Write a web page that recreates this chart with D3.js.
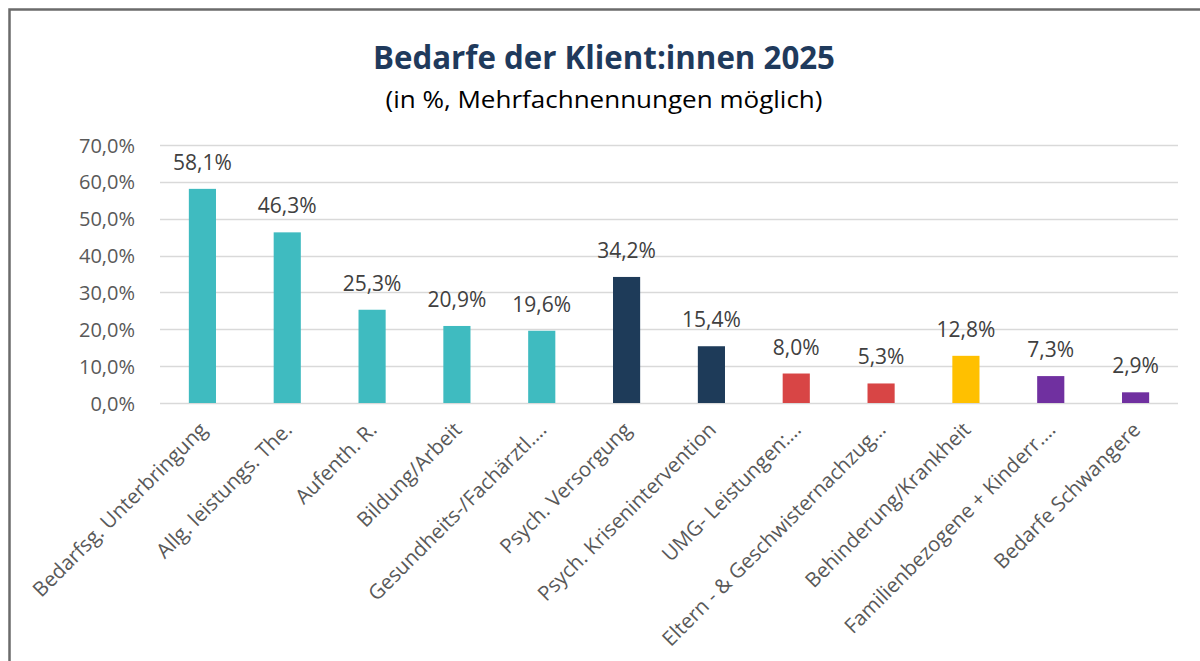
<!DOCTYPE html>
<html>
<head>
<meta charset="utf-8">
<script src="https://cdn.jsdelivr.net/npm/d3@7"></script>
<style>
  body { margin: 0; background: #fff; }
  svg { display: block; }
</style>
</head>
<body>
<div id="chart"></div>
<script>
const categories = [
  'Bedarfsg. Unterbringung',
  'Allg. leistungs. The.',
  'Aufenth. R.',
  'Bildung/Arbeit',
  'Gesundheits-/Fachärztl.…',
  'Psych. Versorgung',
  'Psych. Krisenintervention',
  'UMG- Leistungen:…',
  'Eltern - & Geschwisternachzug…',
  'Behinderung/Krankheit',
  'Familienbezogene + Kinderr.…',
  'Bedarfe Schwangere'
];
const values = [58.1, 46.3, 25.3, 20.9, 19.6, 34.2, 15.4, 8.0, 5.3, 12.8, 7.3, 2.9];
const groups = ['a', 'a', 'a', 'a', 'a', 'b', 'b', 'c', 'c', 'd', 'e', 'e'];
const yTicks = [0, 10, 20, 30, 40, 50, 60, 70];

const width = 1200, height = 661;
const margin = { top: 145, right: 22, bottom: 258, left: 160 };

const color = d3.scaleOrdinal()
  .domain(['a', 'b', 'c', 'd', 'e'])
  .range(['#3FBBC0', '#1E3B59', '#D84545', '#FFC000', '#7030A0']);

const fmt = v => d3.format('.1f')(v).replace('.', ',') + '%';

const svg = d3.select('#chart').append('svg')
  .attr('width', width)
  .attr('height', height);

// frame
svg.append('path')
  .attr('d', `M9.5,${height + 5} L9.5,9.5 L${width + 5},9.5`)
  .attr('fill', 'none')
  .attr('stroke', '#6b6b6b')
  .attr('stroke-width', 2.5);

svg.append('text')
  .attr('x', 604)
  .attr('y', 69)
  .attr('text-anchor', 'middle')
  .attr('font-family', 'Open Sans, sans-serif')
  .attr('font-weight', 'bold')
  .attr('font-size', 33)
  .attr('fill', '#1F3A5C')
  .attr('textLength', 462)
  .attr('lengthAdjust', 'spacingAndGlyphs')
  .text('Bedarfe der Klient:innen 2025');

svg.append('text')
  .attr('x', 604)
  .attr('y', 108)
  .attr('text-anchor', 'middle')
  .attr('font-family', 'Open Sans, sans-serif')
  .attr('font-size', 23)
  .attr('fill', '#000')
  .attr('textLength', 437)
  .attr('lengthAdjust', 'spacingAndGlyphs')
  .text('(in %, Mehrfachnennungen möglich)');

const x = d3.scaleBand()
  .domain(categories)
  .range([margin.left, width - margin.right])
  .paddingInner(0.68)
  .paddingOuter(0.34);

const y = d3.scaleLinear()
  .domain([0, 70])
  .range([height - margin.bottom, margin.top]);

// gridlines
svg.append('g')
  .selectAll('line')
  .data(yTicks)
  .join('line')
  .attr('x1', margin.left)
  .attr('x2', width - margin.right)
  .attr('y1', d => Math.round(y(d)) + 0.5)
  .attr('y2', d => Math.round(y(d)) + 0.5)
  .attr('stroke', '#d9d9d9')
  .attr('stroke-width', 1.5);

// y axis labels
const yAxis = svg.append('g')
  .attr('transform', `translate(${margin.left - 22},0)`)
  .call(d3.axisLeft(y).tickValues(yTicks).tickSize(0).tickFormat(d => fmt(d)));
yAxis.select('.domain').remove();
yAxis.selectAll('text')
  .attr('font-family', 'Open Sans, sans-serif')
  .attr('font-size', 20)
  .attr('fill', '#595959')
  .attr('dy', '0.35em');

// bars
svg.append('g')
  .selectAll('rect')
  .data(values)
  .join('rect')
  .attr('x', (d, i) => x(categories[i]))
  .attr('width', x.bandwidth())
  .attr('y', d => y(d))
  .attr('height', d => y(0) - y(d))
  .attr('fill', (d, i) => color(groups[i]));

// value labels
svg.append('g')
  .selectAll('text')
  .data(values)
  .join('text')
  .attr('x', (d, i) => x(categories[i]) + x.bandwidth() / 2)
  .attr('y', d => y(d) - 19)
  .attr('text-anchor', 'middle')
  .attr('font-family', 'Open Sans, sans-serif')
  .attr('font-size', 21)
  .attr('fill', '#404040')
  .text(d => fmt(d));

// category labels
svg.append('g')
  .selectAll('text')
  .data(categories)
  .join('text')
  .attr('transform', d => `translate(${x(d) + x.bandwidth() / 2 + 6},${y(0) + 28}) rotate(-45)`)
  .attr('text-anchor', 'end')
  .attr('font-family', 'Open Sans, sans-serif')
  .attr('font-size', 20.5)
  .attr('fill', '#595959')
  .text(d => d);
</script>
</body>
</html>
